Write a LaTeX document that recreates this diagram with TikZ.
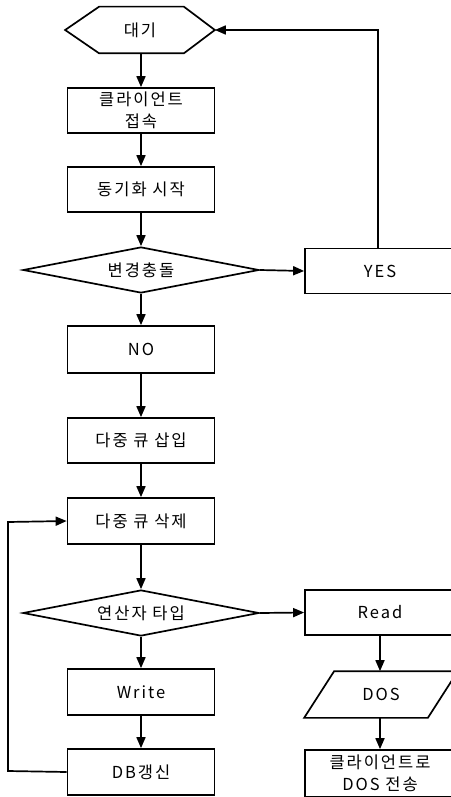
\documentclass[tikz,border=0pt]{standalone}
\usepackage{fontspec}
\setmainfont{Noto Sans CJK KR}
\newfontfamily\kr[LetterSpace=12]{Noto Sans CJK KR}
\usetikzlibrary{shapes.geometric,arrows.meta}
\begin{document}
\begin{tikzpicture}[x=1pt,y=-1pt,line width=1.7pt,
  every node/.style={inner sep=0pt,font=\kr\fontsize{16.5}{22}\selectfont,align=center},
  box/.style={draw,rectangle,minimum width=147pt,minimum height=45pt},
  rbox/.style={draw,rectangle,minimum width=150pt,minimum height=45pt},
  dec/.style={draw,diamond,minimum width=236pt,minimum height=46pt,shape aspect=5},
  plain/.style={rectangle,minimum height=45pt},
  arr/.style={-{Triangle[length=11pt,width=9pt]}}]
\useasboundingbox (0,0) rectangle (450,797);
% nodes
\node[plain,minimum width=148pt] (wait) at (140,30) {대기};
\node[box] (conn) at (141,110.5) {클라이언트\\접속};
\node[box] (sync) at (141,189.5) {동기화 시작};
\node[dec] (chk) at (141,270) {변경충돌};
\node[rbox] (yes) at (380,271) {YES};
\node[box,minimum height=47pt] (no) at (141,349.5) {NO};
\node[box] (ins) at (141,440.5) {다중 큐 삽입};
\node[box,minimum height=46pt] (del) at (141,521) {다중 큐 삭제};
\node[dec] (op) at (141,613) {연산자 타입};
\node[rbox] (read) at (380,612.5) {Read};
\node[box,minimum height=46pt] (write) at (141,692) {Write};
\node[box,minimum height=46pt] (db) at (141,772) {DB갱신};
\node[plain,minimum width=152pt] (dos) at (381,694.5) {DOS};
\node[rbox,minimum height=47pt] (send) at (380,773.5) {클라이언트로\\DOS 전송};
\coordinate (yl) at (378,30);
\coordinate (ll) at (8,771);
\coordinate (lu) at (8,522);
% shapes drawn by hand
\draw (wait.west) -- ([xshift=34pt]wait.north west) -- ([xshift=-31pt]wait.north east)
  -- (wait.east) -- ([xshift=-31pt]wait.south east) -- ([xshift=34pt]wait.south west) -- cycle;
\draw (dos.south west) -- ([xshift=30pt]dos.north west) -- (dos.north east)
  -- ([xshift=-30pt]dos.south east) -- cycle;
% connectors
\draw[arr] (wait.south -| conn.north) -- (conn.north);
\draw[arr] (conn.south) -- (sync.north);
\draw[arr] (sync.south) -- (chk.north);
\draw[arr] (chk.east) -- (yes.west);
\draw[arr] (yes.north -| yl) -- (yl) -- (wait.east);
\draw[arr] (chk.south) -- (no.north);
\draw[arr] (no.south) -- (ins.north);
\draw[arr] (ins.south) -- (del.north);
\draw[arr] (del.south) -- (op.north);
\draw[arr] (op.east) -- (read.west);
\draw[arr] (op.south) -- (write.north);
\draw[arr] (write.south) -- (db.north);
\draw[arr] (db.west) -- (ll) -- (lu) -- (del.west);
\draw[arr] (read.south) -- (read.south |- dos.north);
\draw[arr] (send.north |- dos.south) -- (send.north);
\end{tikzpicture}
\end{document}
